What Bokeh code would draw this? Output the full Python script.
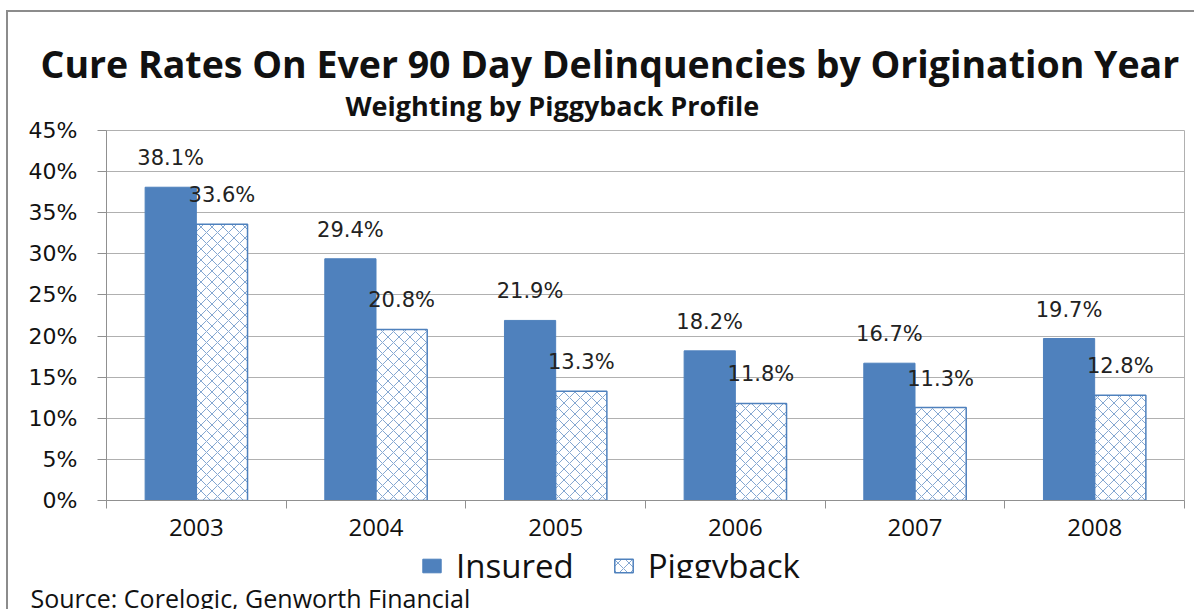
from bokeh.plotting import figure
from bokeh.layouts import column
from bokeh.models import (ColumnDataSource, FixedTicker, Legend, LegendItem, LabelSet,
                          Title, Range1d, PrintfTickFormatter)
from bokeh.core.properties import value
from bokeh.embed import file_html
from bokeh.resources import INLINE

years = ["2003", "2004", "2005", "2006", "2007", "2008"]
insured = [38.1, 29.4, 21.9, 18.2, 16.7, 19.7]
piggyback = [33.6, 20.8, 13.3, 11.8, 11.3, 12.8]
y_ticks = [0, 5, 10, 15, 20, 25, 30, 35, 40, 45]
series_names = ["Insured", "Piggyback"]
source_note = "Source: Corelogic, Genworth Financial"

BLUE = "#4F81BD"
BW = 0.285
HATCH = dict(hatch_pattern="diagonal_cross", hatch_color=BLUE, hatch_scale=11, hatch_weight=0.7)

centers = [i + 0.5 for i in range(len(years))]
src_i = ColumnDataSource(dict(x=[c - BW / 2 for c in centers], top=insured,
                              lab=[f"{v:.1f}%" for v in insured]))
src_p = ColumnDataSource(dict(x=[c + BW / 2 for c in centers], top=piggyback,
                              lab=[f"{v:.1f}%" for v in piggyback]))

p = figure(frame_width=1078, frame_height=370, output_backend="svg", toolbar_location=None,
           x_range=Range1d(0, 6), y_range=Range1d(0, 45))
p.min_border_left = 98
p.min_border_right = 10
p.min_border_top = 118
p.min_border_bottom = 0
p.outline_line_color = "#b0b0b0"
p.background_fill_color = "white"
p.border_fill_color = "white"

p.vbar(x="x", top="top", width=BW, source=src_i, fill_color=BLUE, line_color=BLUE)
p.vbar(x="x", top="top", width=BW, source=src_p, fill_color="white", line_color=BLUE,
       line_width=1.5, **HATCH)

for s in (src_i, src_p):
    p.add_layout(LabelSet(x="x", y="top", text="lab", source=s, y_offset=17,
                          text_align="center", text_baseline="bottom",
                          text_font=value("DejaVu Sans"), text_font_size="21px",
                          text_color="#222222"))

# y axis
p.yaxis.ticker = FixedTicker(ticks=y_ticks)
p.yaxis.formatter = PrintfTickFormatter(format="%d%%")
p.yaxis.major_label_text_font = "DejaVu Sans"
p.yaxis.major_label_text_font_size = "22px"
p.yaxis.major_label_text_color = "#111111"
p.yaxis.axis_line_color = "#909090"
p.yaxis.major_tick_line_color = "#909090"
p.yaxis.major_tick_out = 9
p.yaxis.major_tick_in = 0
p.yaxis.minor_tick_line_color = None
p.yaxis.major_label_standoff = 20
p.ygrid.grid_line_color = "#b0b0b0"
p.ygrid.ticker = FixedTicker(ticks=y_ticks)

# x axis: labels at centers, ticks at category boundaries
p.xaxis.ticker = FixedTicker(ticks=centers, minor_ticks=list(range(len(years) + 1)))
p.xaxis.major_label_overrides = {c: y for c, y in zip(centers, years)}
p.xaxis.major_tick_line_color = None
p.xaxis.minor_tick_line_color = "#909090"
p.xaxis.minor_tick_out = 8
p.xaxis.minor_tick_in = 0
p.xaxis.axis_line_color = "#909090"
p.xaxis.major_label_text_font = "Open Sans"
p.xaxis.major_label_text_font_size = "24px"
p.xaxis.major_label_text_color = "#111111"
p.xaxis.major_label_standoff = 10
p.xgrid.grid_line_color = None

p.add_layout(Title(text="Weighting by Piggyback Profile", align="left", offset=239,
                   standoff=14,
                   text_font="Open Sans", text_font_size="27px", text_font_style="bold",
                   text_color="#111111"), "above")
p.add_layout(Title(text="Cure Rates On Ever 90 Day Delinquencies by Origination Year",
                   align="left", offset=-66, standoff=-22,
                   text_font="Open Sans", text_font_size="37.5px", text_font_style="bold",
                   text_color="#111111"), "above")

# ---- legend + source strip below the chart (same frame geometry as the chart) ----
p2 = figure(frame_width=1078, frame_height=40, output_backend="svg", toolbar_location=None,
            x_range=Range1d(0, 6), y_range=Range1d(1000, 1001),
            x_axis_type=None, y_axis_type=None)
p2.min_border_left = 98
p2.min_border_right = 10
p2.min_border_top = 0
p2.min_border_bottom = 0
p2.outline_line_color = None
p2.grid.grid_line_color = None
p2.background_fill_color = "white"
p2.border_fill_color = "white"

# legend keys: same series, not drawn in this strip (only their legend swatches are shown)
k_i = p2.vbar(x="x", top="top", width=BW, source=src_i, fill_color=BLUE, line_color=BLUE,
              visible=False)
k_p = p2.vbar(x="x", top="top", width=BW, source=src_p, fill_color="white", line_color=BLUE,
              line_width=1.5, visible=False, **HATCH)

legend = Legend(items=[LegendItem(label=series_names[0], renderers=[k_i]),
                       LegendItem(label=series_names[1], renderers=[k_p])],
                orientation="horizontal", location=(314, -10),
                label_text_font="Open Sans", label_text_font_size="33px",
                label_text_color="#111111", click_policy="none",
                inactive_fill_alpha=0,
                glyph_width=23, glyph_height=17, spacing=38, padding=0, margin=0,
                border_line_color=None, background_fill_alpha=0, label_standoff=13)
p2.add_layout(legend, "center")

p2.add_layout(Title(text=source_note, align="left", offset=-76, standoff=0,
                    text_font="Open Sans", text_font_size="25px", text_font_style="normal",
                    text_color="#111111"), "below")

layout = column(p, p2, spacing=0,
                styles={"margin-left": "6px", "margin-top": "10px",
                        "border-left": "2px solid #8c8c8c", "border-top": "2px solid #8c8c8c"})

open("out.html", "w").write(file_html(layout, INLINE))
